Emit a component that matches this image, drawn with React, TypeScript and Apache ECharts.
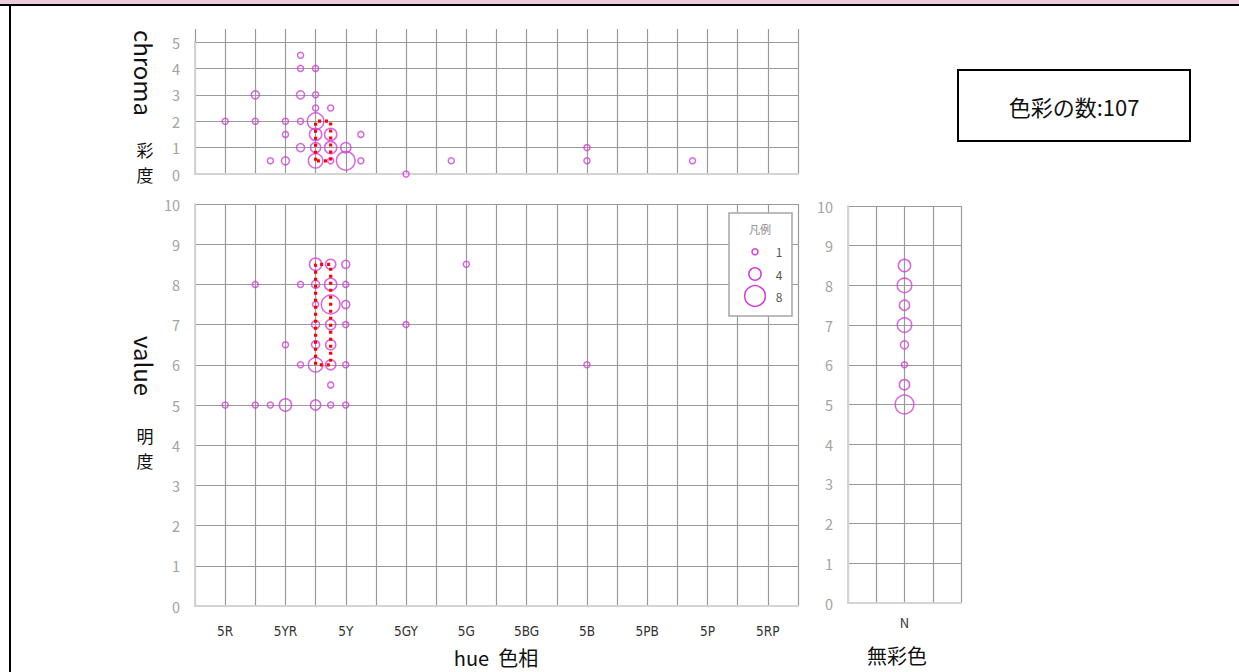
import React, { useEffect, useRef } from 'react';
import * as echarts from 'echarts';

// ---- data ----
const hueLabels = ['5R', '5YR', '5Y', '5GY', '5G', '5BG', '5B', '5PB', '5P', '5RP'];
const huePositions = [1, 3, 5, 7, 9, 11, 13, 15, 17, 19];

// [hue position, chroma, count]
const chromaPoints: number[][] = [
  [3.5, 4.5, 1], [3.5, 4, 1], [4, 4, 1],
  [2, 3, 2], [3.5, 3, 2], [4, 3, 1],
  [4, 2.5, 1], [4.5, 2.5, 1],
  [1, 2, 1], [2, 2, 1], [3, 2, 1], [3.5, 2, 1], [4, 2, 6],
  [3, 1.5, 1], [4, 1.5, 4], [4.5, 1.5, 4], [5.5, 1.5, 1],
  [3.5, 1, 2], [4, 1, 3], [4.5, 1, 4], [5, 1, 3],
  [2.5, 0.5, 1], [3, 0.5, 2], [4, 0.5, 5], [4.5, 0.5, 1], [5, 0.5, 7], [5.5, 0.5, 1],
  [7, 0, 1], [8.5, 0.5, 1], [13, 1, 1], [13, 0.5, 1], [16.5, 0.5, 1],
];

// [hue position, value, count]
const valuePoints: number[][] = [
  [4, 8.5, 4], [4.5, 8.5, 3], [5, 8.5, 2], [9, 8.5, 1],
  [2, 8, 1], [3.5, 8, 1], [4, 8, 2], [4.5, 8, 4], [5, 8, 1],
  [4, 7.5, 1], [4.5, 7.5, 7], [5, 7.5, 2],
  [4, 7, 2], [4.5, 7, 3], [5, 7, 1], [7, 7, 1],
  [3, 6.5, 1], [4, 6.5, 2], [4.5, 6.5, 3],
  [3.5, 6, 1], [4, 6, 5], [4.5, 6, 3], [5, 6, 1], [13, 6, 1],
  [4.5, 5.5, 1],
  [1, 5, 1], [2, 5, 1], [2.5, 5, 1], [3, 5, 4], [4, 5, 3], [4.5, 5, 1], [5, 5, 1],
];

const achromaticValues = [8.5, 8, 7.5, 7, 6.5, 6, 5.5, 5];
const achromaticCounts = [4, 5, 3, 5, 2, 1, 3, 7];

const legendCounts = [1, 4, 8];
const totalColors = 107;

const chromaBox = [[4, 0.5], [4, 2], [4.5, 2], [4.5, 0.5], [4, 0.5]];
const valueBox = [[4, 6], [4, 8.5], [4.5, 8.5], [4.5, 6], [4, 6]];

// ---- styles ----
const MAGENTA = '#d23fd8';
const GRID = '#9a9a9a';
const FONT = "'Noto Sans CJK JP', 'Noto Sans', sans-serif";
const bubble = (n: number) => 3.9 + 2.1 * n;

const centered = { align: 'center', verticalAlign: 'middle', textAlign: 'center', textVerticalAlign: 'middle' };

const label = (text: string, x: number, y: number, fontSize: number, extra: any = {}, rotation = 0) => ({
  type: 'text', x, y, rotation, z: 11,
  style: { text, fill: '#111', fontSize, fontFamily: FONT, ...centered, ...extra },
});

export default function App() {
  const ref = useRef<HTMLDivElement>(null);

  useEffect(() => {
    if (!ref.current) return;
    const chart = echarts.init(ref.current, undefined, { renderer: 'svg' });

    const yLabel = { color: '#a3a3a3', fontSize: 14.5, margin: 15, fontFamily: FONT };
    const split = { show: true, lineStyle: { color: GRID, width: 1.2 } };
    const edge = { show: true, lineStyle: { color: '#d4d4d4', width: 2 } };

    const bubbleSeries = (name: string, idx: number, data: number[][]) => ({
      name,
      type: 'scatter',
      xAxisIndex: idx,
      yAxisIndex: idx,
      data,
      symbol: 'circle',
      symbolSize: (v: number[]) => bubble(v[2]),
      itemStyle: { color: 'rgba(0,0,0,0)', borderColor: MAGENTA, borderWidth: 1.5 },
      z: 3,
      silent: true,
    });

    const boxSeries = (idx: number, data: number[][]) => ({
      type: 'line',
      xAxisIndex: idx,
      yAxisIndex: idx,
      data,
      symbol: 'none',
      lineStyle: { color: '#ff0000', width: 3.2, type: [3, 4], cap: 'butt' },
      z: 5,
      silent: true,
    });

    const legendY = [251.7, 274, 296];
    const stack = { lineHeight: 17 };

    chart.setOption({
      animation: false,
      textStyle: { fontFamily: FONT },
      grid: [
        { left: 195, width: 603, top: 42, height: 132 },
        { left: 195, width: 603, top: 204, height: 402 },
        { left: 848, width: 113, top: 206, height: 397 },
      ],
      xAxis: [
        {
          gridIndex: 0, type: 'value', min: 0, max: 20, interval: 1,
          axisLabel: { show: false }, axisTick: { show: false },
          axisLine: edge, splitLine: split,
        },
        {
          gridIndex: 1, type: 'value', min: 0, max: 20, interval: 1,
          axisTick: { show: false }, axisLine: edge, splitLine: split,
          axisLabel: {
            margin: 18, color: '#333', fontSize: 13.5,
            fontFamily: "'DejaVu Sans Condensed', 'Noto Sans', sans-serif",
            formatter: (v: number) => {
              const i = huePositions.indexOf(v);
              return i >= 0 ? hueLabels[i] : '';
            },
          },
        },
        {
          gridIndex: 2, type: 'value', min: 0, max: 4, interval: 1,
          axisTick: { show: false }, axisLine: edge, splitLine: split,
          axisLabel: {
            margin: 13, color: '#333', fontSize: 13,
            formatter: (v: number) => (v === 2 ? 'N' : ''),
          },
        },
        {
          gridIndex: 0, type: 'value', position: 'top', min: 0, max: 20, interval: 1,
          axisLabel: { show: false }, axisLine: { show: false }, splitLine: { show: false },
          axisTick: { show: true, length: 13, lineStyle: { color: GRID, width: 1.2 } },
        },
      ],
      yAxis: [
        {
          gridIndex: 0, type: 'value', min: 0, max: 5, interval: 1,
          axisTick: { show: false }, axisLine: edge, splitLine: split, axisLabel: yLabel,
        },
        {
          gridIndex: 1, type: 'value', min: 0, max: 10, interval: 1,
          axisTick: { show: false }, axisLine: edge, splitLine: split, axisLabel: yLabel,
        },
        {
          gridIndex: 2, type: 'value', min: 0, max: 10, interval: 1,
          axisTick: { show: false }, axisLine: edge, splitLine: split, axisLabel: yLabel,
        },
      ],
      series: [
        bubbleSeries('chroma', 0, chromaPoints),
        bubbleSeries('value', 1, valuePoints),
        bubbleSeries('N', 2, achromaticValues.map((v, i) => [2, v, achromaticCounts[i]])),
        boxSeries(0, chromaBox),
        boxSeries(1, valueBox),
      ],
      graphic: [
        { type: 'rect', shape: { x: 0, y: 0, width: 1239, height: 4.5 }, style: { fill: '#ebcadb' }, z: 10 },
        { type: 'rect', shape: { x: 0, y: 4, width: 1239, height: 2 }, style: { fill: '#000' }, z: 10 },
        { type: 'rect', shape: { x: 9, y: 5, width: 2, height: 667 }, style: { fill: '#000' }, z: 10 },
        {
          type: 'rect', shape: { x: 958, y: 70, width: 232, height: 71 },
          style: { fill: '#fff', stroke: '#000', lineWidth: 2 }, z: 10,
        },
        label('色彩の数:' + totalColors, 1074, 105.5, 22),
        // axis titles
        label('chroma', 144, 73, 24, {}, -Math.PI / 2),
        label('彩', 145, 149, 17, stack),
        label('度', 145, 174, 17, stack),
        label('value', 144, 366, 24, {}, -Math.PI / 2),
        label('明', 145, 435, 17, stack),
        label('度', 145, 460, 17, stack),
        label('hue  色相', 496, 657, 20),
        label('無彩色', 897, 655, 20),
        // legend box
        {
          type: 'rect', shape: { x: 729, y: 213, width: 63, height: 103 },
          style: { fill: '#fff', stroke: '#a6a6a6', lineWidth: 1.5 }, z: 10,
        },
        label('凡例', 760, 229, 11, { fill: '#8a8a8a' }),
        ...legendCounts.map((n, i) => ({
          type: 'circle', z: 11,
          shape: { cx: 755, cy: legendY[i], r: bubble(n) / 2 },
          style: { fill: 'none', stroke: MAGENTA, lineWidth: 1.5 },
        })),
        ...legendCounts.map((n, i) => label(String(n), 779, legendY[i], 12, { fill: '#555' })),
      ],
    });

    return () => chart.dispose();
  }, []);

  return (
    <div
      ref={ref}
      style={{ position: 'absolute', left: 0, top: 0, width: 1239, height: 672, background: '#fff' }}
    />
  );
}
